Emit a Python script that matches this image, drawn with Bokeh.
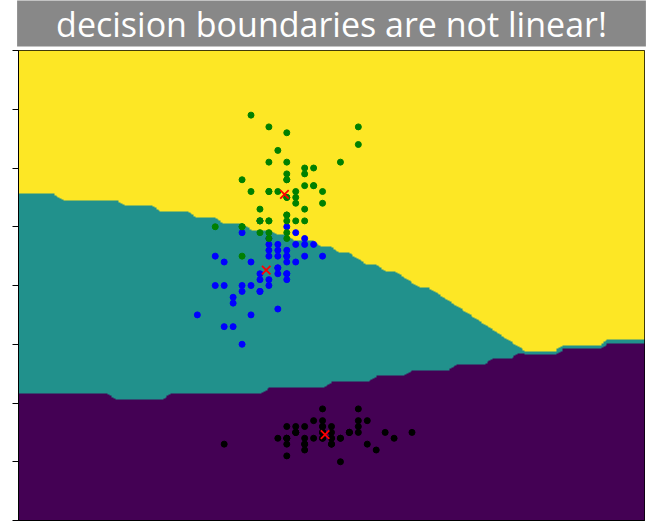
import numpy as np
from bokeh.plotting import figure
from bokeh.models import LinearColorMapper, FixedTicker
from bokeh.embed import file_html
from bokeh.resources import INLINE

# Iris: sepal width (x) and petal length (y) per species
setosa_sw = [3.5,3.0,3.2,3.1,3.6,3.9,3.4,3.4,2.9,3.1,3.7,3.4,3.0,3.0,4.0,4.4,3.9,3.5,3.8,3.8,
             3.4,3.7,3.6,3.3,3.4,3.0,3.4,3.5,3.4,3.2,3.1,3.4,4.1,4.2,3.1,3.2,3.5,3.6,3.0,3.4,
             3.5,2.3,3.2,3.5,3.8,3.0,3.8,3.2,3.7,3.3]
setosa_pl = [1.4,1.4,1.3,1.5,1.4,1.7,1.4,1.5,1.4,1.5,1.5,1.6,1.4,1.1,1.2,1.5,1.3,1.4,1.7,1.5,
             1.7,1.5,1.0,1.7,1.9,1.6,1.6,1.5,1.4,1.6,1.6,1.5,1.5,1.4,1.5,1.2,1.3,1.4,1.3,1.5,
             1.3,1.3,1.3,1.6,1.9,1.4,1.6,1.4,1.5,1.4]
versicolor_sw = [3.2,3.2,3.1,2.3,2.8,2.8,3.3,2.4,2.9,2.7,2.0,3.0,2.2,2.9,2.9,3.1,3.0,2.7,2.2,2.5,
                 3.2,2.8,2.5,2.8,2.9,3.0,2.8,3.0,2.9,2.6,2.4,2.4,2.7,2.7,3.0,3.4,3.1,2.3,3.0,2.5,
                 2.6,3.0,2.6,2.3,2.7,3.0,2.9,2.9,2.5,2.8]
versicolor_pl = [4.7,4.5,4.9,4.0,4.6,4.5,4.7,3.3,4.6,3.9,3.5,4.2,4.0,4.7,3.6,4.4,4.5,4.1,4.5,3.9,
                 4.8,4.0,4.9,4.7,4.3,4.4,4.8,5.0,4.5,3.5,3.8,3.7,3.9,5.1,4.5,4.5,4.7,4.4,4.1,4.0,
                 4.4,4.6,4.0,3.3,4.2,4.2,4.2,4.3,3.0,4.1]
virginica_sw = [3.3,2.7,3.0,2.9,3.0,3.0,2.5,2.9,2.5,3.6,3.2,2.7,3.0,2.5,2.8,3.2,3.0,3.8,2.6,2.2,
                3.2,2.8,2.8,2.7,3.3,3.2,2.8,3.0,2.8,3.0,2.8,3.8,2.8,2.8,2.6,3.0,3.4,3.1,3.0,3.1,
                3.1,3.1,2.7,3.2,3.3,3.0,2.5,3.0,3.4,3.0]
virginica_pl = [6.0,5.1,5.9,5.6,5.8,6.6,4.5,6.3,5.8,6.1,5.1,5.3,5.5,5.0,5.1,5.3,5.5,6.7,6.9,5.0,
                5.7,4.9,6.7,4.9,5.7,6.0,4.8,4.9,5.6,5.8,6.1,6.4,5.6,5.1,5.6,6.1,5.6,5.5,4.8,5.4,
                5.6,5.1,5.1,5.9,5.7,5.2,5.0,5.2,5.4,5.1]

x_ticks = [0, 1, 2, 3, 4, 5, 6, 7]
y_ticks = [0, 1, 2, 3, 4, 5, 6, 7, 8]
title_text = "decision boundaries are not linear!"

classes = [(setosa_sw, setosa_pl), (versicolor_sw, versicolor_pl), (virginica_sw, virginica_pl)]
point_colors = ["black", "blue", "green"]
region_palette = ["#440154", "#21918c", "#fde725"]

# Gaussian naive Bayes fitted on the two features
means = np.array([[np.mean(a), np.mean(b)] for a, b in classes])
vars_ = np.array([[np.var(a), np.var(b)] for a, b in classes])
eps = 1e-9 * max(np.var(np.concatenate([c[0] for c in classes])),
                 np.var(np.concatenate([c[1] for c in classes])))
vars_ = vars_ + eps

x0, x1, y0, y1 = 0.0, 7.0, 0.0, 8.0
h = 0.1        # coarse prediction grid
hf = 0.02      # fine display grid
cx = np.arange(x0, x1 + h / 2, h)
cy = np.arange(y0, y1 + h / 2, h)
CX, CY = np.meshgrid(cx, cy)
logp = []
for k in range(3):
    lp = (-0.5 * np.sum(np.log(2 * np.pi * vars_[k]))
          - 0.5 * ((CX - means[k, 0]) ** 2 / vars_[k, 0] + (CY - means[k, 1]) ** 2 / vars_[k, 1]))
    logp.append(lp)
Zc = np.argmax(np.stack(logp), axis=0).astype(float)

# bilinear resampling of the coarse class map (like a filled contour of it)
fx = np.arange(x0, x1, hf) + hf / 2
fy = np.arange(y0, y1, hf) + hf / 2
rows = np.array([np.interp(fx, cx, r) for r in Zc])
Zf = np.array([np.interp(fy, cy, col) for col in rows.T]).T
Z = np.clip(np.round(Zf), 0, 2)

p = figure(width=648, height=529, x_range=(x0, x1), y_range=(y0, y1),
           output_backend="svg", toolbar_location=None,
           min_border_left=18, min_border_right=4, min_border_top=50, min_border_bottom=0)
p.styles = {"margin-top": "-6px"}

mapper = LinearColorMapper(palette=region_palette, low=0, high=2)
p.image(image=[Z], x=x0, y=y0, dw=x1 - x0, dh=y1 - y0, color_mapper=mapper)

for (sw, pl), col in zip(classes, point_colors):
    p.scatter(sw, pl, size=6, color=col, line_color=col)

p.scatter(means[:, 0], means[:, 1], marker="x", size=12, line_color="red", line_width=1.8)

p.title.text = title_text
p.title.align = "center"
p.title.text_font = "Open Sans"
p.title.text_font_size = "34px"
p.title.text_font_style = "normal"
p.title.text_color = "white"
p.title.background_fill_color = "#888888"
p.title.padding = dict(left=39, right=39, top=0, bottom=0)
p.title.standoff = 8

p.xgrid.grid_line_color = None
p.ygrid.grid_line_color = None
p.outline_line_color = "black"
p.outline_line_width = 1
for ax, ticks, tout in ((p.xaxis[0], x_ticks, 3), (p.yaxis[0], y_ticks, 6)):
    ax.ticker = FixedTicker(ticks=ticks)
    ax.minor_tick_line_color = None
    ax.major_tick_in = 0
    ax.major_tick_out = tout
    ax.major_label_text_font_size = "0px"
    ax.major_label_text_color = None
    ax.major_label_standoff = 0
    ax.axis_line_color = "black"
    ax.major_tick_line_color = "black"

open("out.html", "w").write(file_html(p, INLINE))
